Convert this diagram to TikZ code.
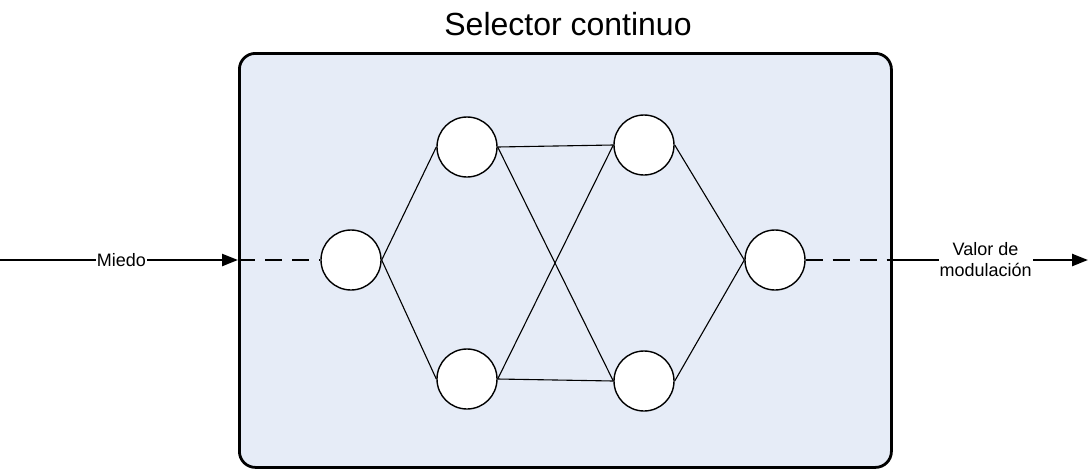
\documentclass[tikz,border=0pt]{standalone}
\usepackage{fontspec}
\setmainfont{Liberation Sans}
\usetikzlibrary{arrows.meta}
\definecolor{boxfill}{HTML}{E6ECF7}
\begin{document}
\begin{tikzpicture}[x=1pt,y=-1pt,
  neuron/.style={circle,draw=black,fill=white,line width=1.4pt,minimum size=60pt,inner sep=0pt},
  link/.style={line width=1.1pt},
  dashlink/.style={line width=1.1pt,dash pattern=on 17pt off 10pt},
  flow/.style={line width=2.4pt,-{Triangle[length=16pt,width=12pt]}},
  lbl/.style={fill=white,inner sep=1pt,font=\fontsize{18}{21}\selectfont,align=center}]
\useasboundingbox (0,0) rectangle (1089,469);
\node[draw=black,line width=2.8pt,fill=boxfill,rounded corners=16pt,minimum width=652pt,minimum height=414pt,anchor=north west,inner sep=0pt] (box) at (238,52) {};
\node[font=\fontsize{32}{36}\selectfont] (title) at (568,24) {Selector continuo};
\node[neuron] (in) at (351,260) {};
\node[neuron] (tl) at (467,147) {};
\node[neuron] (bl) at (467,379) {};
\node[neuron] (tr) at (644,145) {};
\node[neuron] (br) at (644,381) {};
\node[neuron] (out) at (775,260) {};
\draw[link] (in.east) -- (tl.west);
\draw[link] (in.east) -- (bl.west);
\draw[link] (tl.east) -- (tr.west);
\draw[link] (tl.east) -- (br.west);
\draw[link] (bl.east) -- (tr.west);
\draw[link] (bl.east) -- (br.west);
\draw[link] (tr.east) -- (out.west);
\draw[link] (br.east) -- (out.west);
\coordinate (src) at (0,260);
\coordinate (dst) at (1088,260);
\draw[dashlink] (box.west |- in.west) -- (in.west);
\draw[dashlink] (out.east) -- (box.east |- out.east);
\draw[flow] (src) -- node[lbl,pos=0.51] (miedo) {Miedo} (box.west |- in.west);
\draw[flow] (box.east |- out.east) -- node[lbl,pos=0.475] (valor) {Valor de\\modulación} (dst);
\end{tikzpicture}
\end{document}
